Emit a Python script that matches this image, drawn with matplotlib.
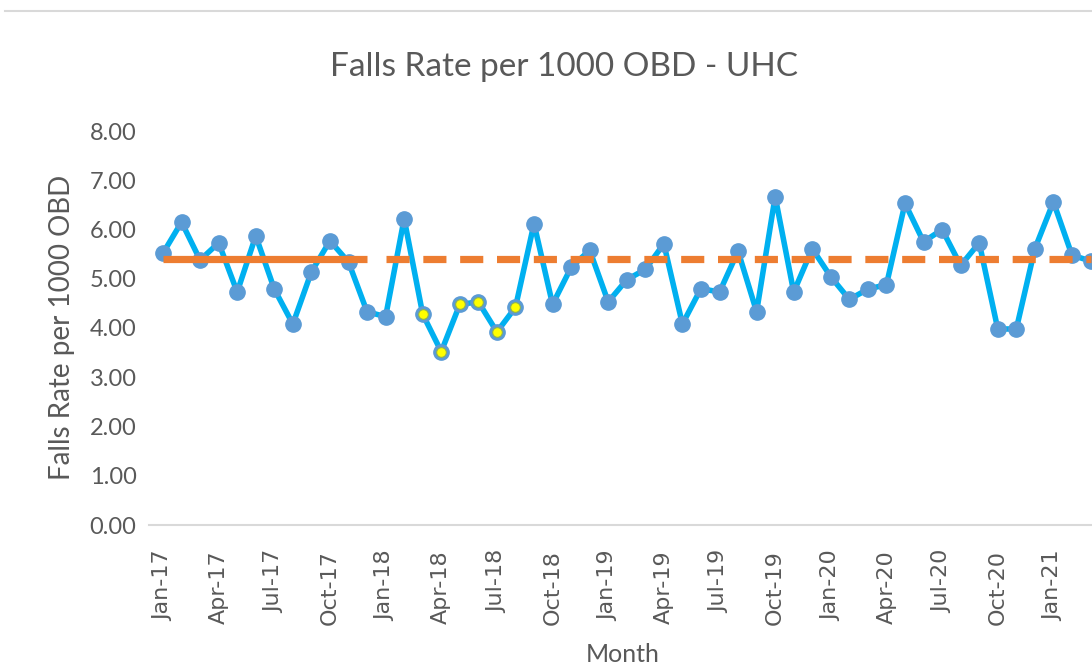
import pandas as pd
import matplotlib.pyplot as plt
from matplotlib.lines import Line2D

# Data (Jan-17 .. Mar-21)
months = pd.date_range('2017-01-01', periods=51, freq='MS').strftime('%b-%y').tolist()
falls_rate = [5.52, 6.15, 5.38, 5.73, 4.73, 5.87, 4.79, 4.08, 5.14, 5.77, 5.34, 4.33,
              4.23, 6.22, 4.28, 3.52, 4.48, 4.53, 3.92, 4.42, 6.12, 4.48, 5.23, 5.58,
              4.53, 4.98, 5.19, 5.71, 4.08, 4.80, 4.73, 5.56, 4.33, 6.67, 4.73, 5.61,
              5.04, 4.58, 4.79, 4.88, 6.53, 5.75, 6.00, 5.27, 5.73, 3.98, 3.98, 5.61,
              6.56, 5.48, 5.36]
mean_value = 5.41
baseline_months = 12          # Jan-17 .. Dec-17 solid mean
run_idx = [14, 15, 16, 17, 18, 19]   # highlighted run (Mar-18 .. Aug-18)

grey = '#595959'
plt.rcParams['font.family'] = ['Lato', 'DejaVu Sans']

fig = plt.figure(figsize=(10.92, 6.67), dpi=100)
ax = fig.add_axes([149 / 1092, (667 - 525) / 667, (1092 - 149) / 1092, (525 - 131) / 667])

x = list(range(len(months)))
ax.plot(x, falls_rate, color='#00B0F0', lw=4.0, marker='o', ms=11,
        mfc='#5B9BD5', mec='#5B9BD5', zorder=3)
ax.plot(run_idx, [falls_rate[i] for i in run_idx], ls='none', marker='o', ms=7,
        mfc='#FFFF00', mec='#8DB255', mew=0.8, zorder=4)

base_x = x[:baseline_months]
proj_x = x[baseline_months:]
ax.plot(base_x, [mean_value] * len(base_x), color='#ED7D31', lw=5.2,
        solid_capstyle='butt', zorder=5)
ax.plot(proj_x, [mean_value] * len(proj_x), color='#ED7D31', lw=5.2,
        dashes=(3.2, 1.9), dash_capstyle='butt', zorder=5)

ax.set_xlim(-0.755, 50.08)
ax.set_ylim(0, 8)
ax.set_yticks(range(0, 9))
ax.set_yticklabels([f'{v:.2f}' for v in range(0, 9)], fontsize=17, color=grey)
ax.set_xticks(x[::3])
ax.set_xticklabels(months[::3], rotation=90, fontsize=16, color=grey,
                   family='DejaVu Sans')
ax.tick_params(axis='both', length=0)
ax.tick_params(axis='x', pad=18)
ax.tick_params(axis='y', pad=9)

for s in ['top', 'right', 'left']:
    ax.spines[s].set_visible(False)
ax.spines['bottom'].set_color('#D9D9D9')
ax.spines['bottom'].set_linewidth(1.5)

fig.text(564 / 1092, 1 - 67 / 667, 'Falls Rate per 1000 OBD - UHC', ha='center',
         va='center', fontsize=24, color=grey)
fig.text(62 / 1092, 1 - 327 / 667, 'Falls Rate per 1000 OBD', ha='center',
         va='center', rotation=90, fontsize=20, color=grey)
fig.text(623 / 1092, 1 - 654 / 667, 'Month', ha='center', va='center',
         fontsize=18, color=grey)

# chart border line at top
fig.add_artist(Line2D([5 / 1092, 1], [1 - 11 / 667] * 2, color='#D9D9D9', lw=1.5))

fig.savefig('out.png', dpi=100)
